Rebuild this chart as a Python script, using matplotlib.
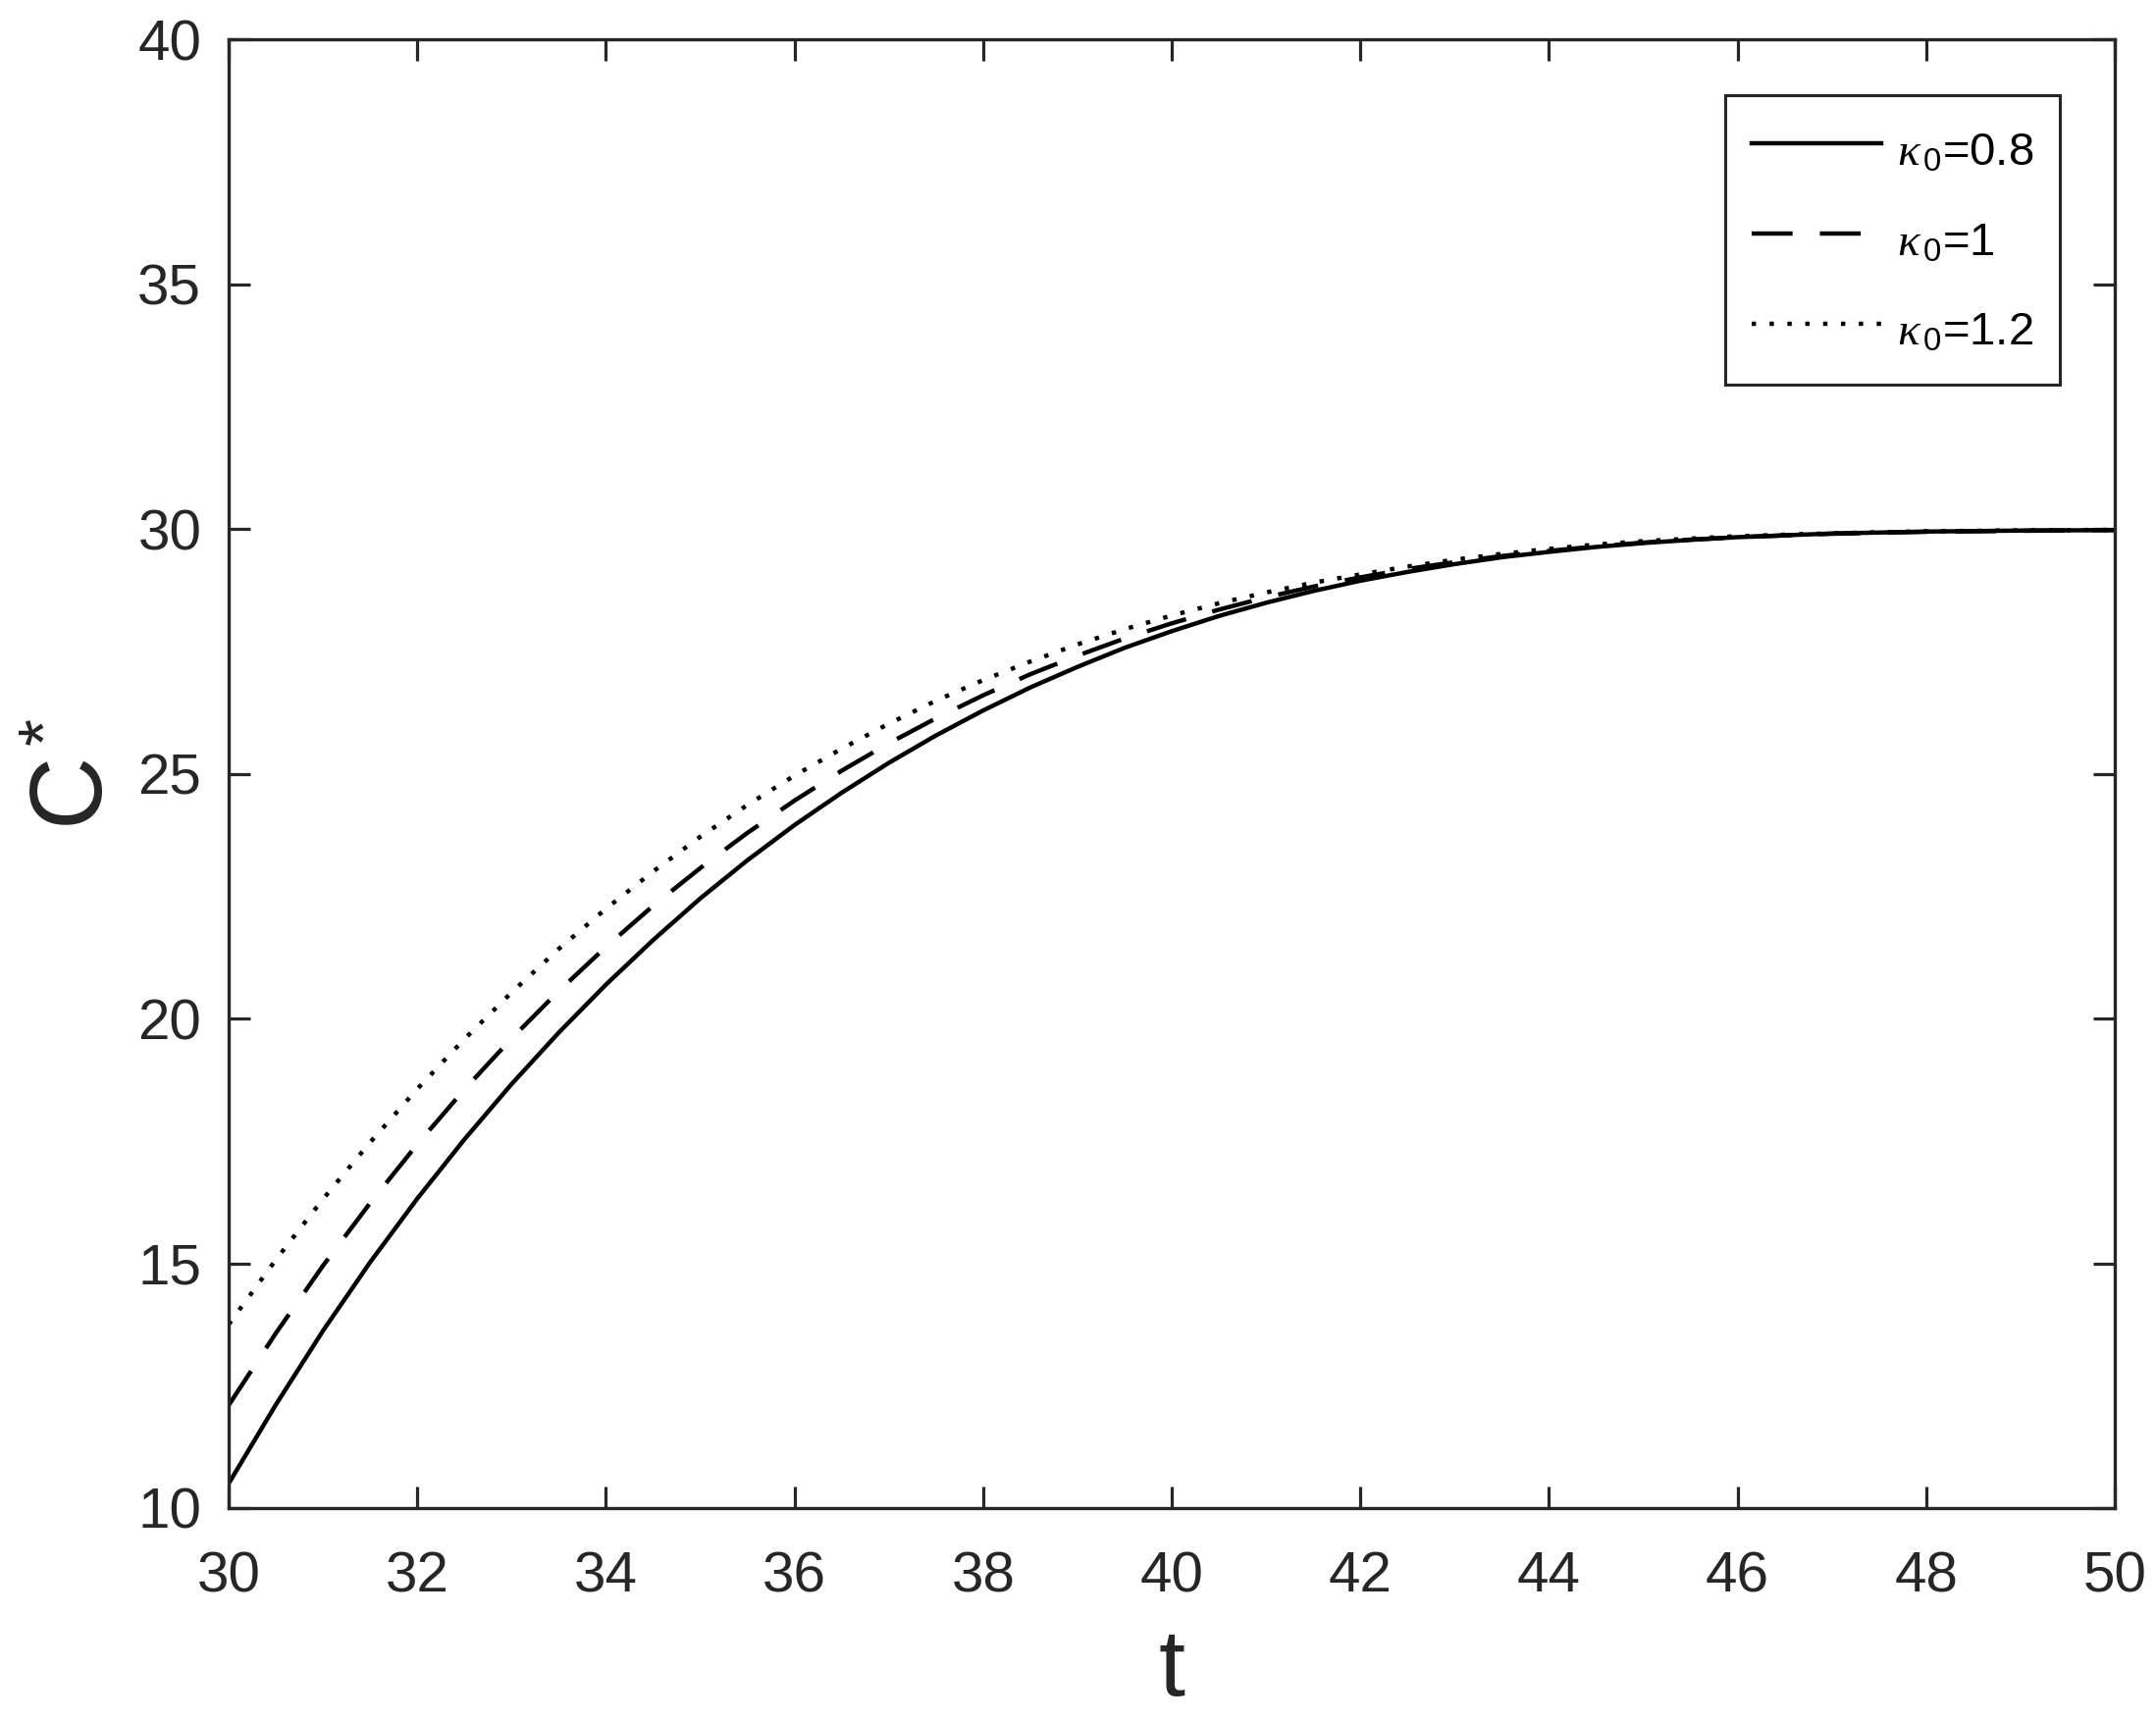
import matplotlib
matplotlib.use("Agg")
import matplotlib.pyplot as plt

# ---- data ----
t = [30, 30.5, 31, 31.5, 32, 32.5, 33, 33.5, 34, 34.5, 35, 35.5, 36, 36.5, 37, 37.5,
     38, 38.5, 39, 39.5, 40, 40.5, 41, 41.5, 42, 42.5, 43, 43.5, 44, 44.5, 45, 45.5,
     46, 47, 48, 49, 50]
c_k08 = [10.5, 12.11, 13.62, 15.02, 16.32, 17.53, 18.66, 19.71, 20.69, 21.6, 22.45, 23.23,
         23.95, 24.61, 25.22, 25.78, 26.29, 26.76, 27.18, 27.57, 27.91, 28.22, 28.49, 28.73,
         28.94, 29.12, 29.28, 29.42, 29.53, 29.63, 29.71, 29.775, 29.83, 29.905, 29.945,
         29.965, 29.975]
c_k10 = [12.1, 13.57, 14.95, 16.23, 17.43, 18.55, 19.59, 20.56, 21.46, 22.3, 23.07, 23.79,
         24.45, 25.06, 25.62, 26.13, 26.6, 27.03, 27.41, 27.76, 28.07, 28.35, 28.6, 28.82,
         29.01, 29.18, 29.32, 29.445, 29.55, 29.64, 29.72, 29.78, 29.83, 29.9, 29.94,
         29.96, 29.975]
c_k12 = [13.75, 15.07, 16.31, 17.47, 18.56, 19.58, 20.53, 21.42, 22.24, 23.0, 23.71, 24.36,
         24.96, 25.51, 26.02, 26.49, 26.91, 27.29, 27.64, 27.95, 28.23, 28.48, 28.7, 28.9,
         29.07, 29.23, 29.37, 29.49, 29.59, 29.68, 29.75, 29.8, 29.85, 29.91, 29.95,
         29.97, 29.98]
labels = [r'$\kappa_{\,0}$=0.8', r'$\kappa_{\,0}$=1', r'$\kappa_{\,0}$=1.2']
xticks = [30, 32, 34, 36, 38, 40, 42, 44, 46, 48, 50]
yticks = [10, 15, 20, 25, 30, 35, 40]

plt.rcParams['font.family'] = ['Liberation Sans', 'DejaVu Sans']
plt.rcParams['mathtext.fontset'] = 'custom'
plt.rcParams['mathtext.rm'] = 'Liberation Sans'
plt.rcParams['mathtext.it'] = 'Liberation Serif:italic'
plt.rcParams['mathtext.bf'] = 'Liberation Sans:bold'

AX = '#262626'
DPI = 100
fig = plt.figure(figsize=(2197 / DPI, 1753 / DPI), dpi=DPI)
ax = fig.add_axes([233 / 2197, 1 - 1537 / 1753, (2155 - 233) / 2197, (1537 - 40) / 1753])

lw = 3.2
ax.plot(t, c_k08, color='black', lw=lw, ls='-', label=labels[0])
ax.plot(t, c_k10, color='black', lw=lw, ls=(0, (30.0 / lw, 20.0 / lw)), label=labels[1])
ax.plot(t, c_k12, color='black', lw=lw, ls=(0, (1.0, 9.9 / lw)), dash_capstyle='butt',
        label=labels[2])

ax.set_xlim(30, 50)
ax.set_ylim(10, 40)
ax.set_xticks(xticks)
ax.set_yticks(yticks)
ax.tick_params(direction='in', length=16, width=2.3, colors=AX, labelsize=42,
               top=True, right=True, pad=20)
ax.tick_params(axis='x', pad=31)
for s in ax.spines.values():
    s.set_color(AX)
    s.set_linewidth(2.4)

ax.set_xlabel('t', fontsize=70, color=AX, labelpad=17)
ax.set_ylabel(r'C$^*$', fontsize=74, color=AX, labelpad=10)

fs = 34
leg = ax.legend(loc='upper right', bbox_to_anchor=(0.971, 0.962), borderaxespad=0,
                fontsize=fs, frameon=True, fancybox=False, framealpha=1,
                edgecolor=AX, handlelength=2.8, handleheight=1.5, handletextpad=0.32,
                labelspacing=0.72, borderpad=0.58)
leg.get_frame().set_linewidth(2.2)
for txt in leg.get_texts():
    txt.set_color('black')

fig.savefig('out.png', dpi=DPI, facecolor='white')
